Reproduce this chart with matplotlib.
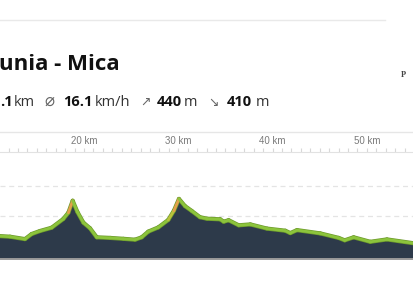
import matplotlib
matplotlib.use("Agg")
import matplotlib.pyplot as plt
from matplotlib.collections import LineCollection
from matplotlib.lines import Line2D
import numpy as np

# Route elevation profile (distance in km, elevation in m)
distance_km = [11.09, 12.15, 13.74, 14.45, 15.33, 16.57, 17.80, 18.34, 18.80, 19.29,
               19.93, 20.64, 21.35, 22.76, 24.17, 25.41, 26.12, 26.82, 27.88, 28.94,
               29.54, 30.07, 30.71, 31.42, 32.30, 33.04, 34.45, 34.81, 35.34, 36.41,
               37.64, 39.41, 41.35, 41.88, 42.59, 45.06, 47.01, 47.65, 48.60, 50.36,
               52.13, 55.00]
elevation_m = [133, 131, 123, 140, 150, 161, 190, 211, 251, 214,
               178, 159, 129, 127, 124, 121, 129, 148, 162, 187,
               218, 257, 233, 217, 196, 191, 189, 181, 186, 169,
               172, 158, 151, 143, 153, 142, 127, 119, 129, 114,
               122, 109]

tick_km = [20, 30, 40, 50]
tick_labels = ["20 km", "30 km", "40 km", "50 km"]
grid_levels = [200, 300]

title = "unia - Mica"
stat_distance = ".1"
stat_speed = "16.1"
stat_up = "440"
stat_down = "410"

W, H = 414, 286
fig = plt.figure(figsize=(W / 100, H / 100), dpi=100)
fig.patch.set_facecolor("white")


def fx(px):
    return px / W


def fy(py):
    return 1 - py / H


FONT = "Open Sans"

# Header rules
fig.add_artist(Line2D([fx(0), fx(385)], [fy(20), fy(20)], color="#e9e9e9", lw=1.0))
fig.add_artist(Line2D([fx(0), fx(414)], [fy(132), fy(132)], color="#e6e6e6", lw=1.0))

# Title
fig.text(fx(-1), fy(70), title, fontsize=16, fontweight="bold", family=FONT,
         color="#111111", va="baseline", ha="left")

# Stats row
base = fy(106)
SZ = 10.5
stat_kw = dict(va="baseline", ha="left", family=FONT)
sym_kw = dict(va="baseline", ha="left", family="DejaVu Sans", color="#666666")
fig.text(fx(0), base, stat_distance, fontsize=SZ, fontweight="bold", color="#111111", **stat_kw)
fig.text(fx(14), base, "km", fontsize=SZ, color="#333333", **stat_kw)
fig.text(fx(44), base, "\u2300", fontsize=12, **sym_kw)
fig.text(fx(63), base, stat_speed, fontsize=SZ, fontweight="bold", color="#111111", **stat_kw)
fig.text(fx(95), base, "km/h", fontsize=SZ, color="#333333", **stat_kw)
fig.text(fx(140), base, "\u2197", fontsize=9, **sym_kw)
fig.text(fx(157), base, stat_up, fontsize=SZ, fontweight="bold", color="#111111", **stat_kw)
fig.text(fx(184), base, "m", fontsize=SZ, color="#333333", **stat_kw)
fig.text(fx(208), base, "\u2198", fontsize=9, **sym_kw)
fig.text(fx(227), base, stat_down, fontsize=SZ, fontweight="bold", color="#111111", **stat_kw)
fig.text(fx(256), base, "m", fontsize=SZ, color="#333333", **stat_kw)

# Small serif letter at the right edge
fig.text(fx(401), fy(77), "P", fontsize=6, fontweight="bold", family="Liberation Serif",
         color="#444444", va="baseline", ha="left")

# Elevation chart
ax = fig.add_axes([0, fy(259), 1, (259 - 152) / H])
ax.set_xlim(11.09, 55.0)
ax.set_ylim(56.7, 413.3)

x = np.array(distance_km)
y = np.array(elevation_m)

for g in grid_levels:
    ax.axhline(g, color="#e4e4e4", lw=0.9, ls=(0, (4, 3)), zorder=1)

ax.fill_between(x, y, 56.7, color="#2d3a4a", lw=0, zorder=2)

# Profile outline, coloured by gradient
pts = np.column_stack([x, y]).reshape(-1, 1, 2)
segs = np.concatenate([pts[:-1], pts[1:]], axis=1)
grade = np.diff(y) / (np.diff(x) * 1000) * 100
colors = ["#e2a04a" if gr > 6 else ("#b9c23c" if gr > 4.5 else "#8cc43c") for gr in grade]
ax.add_collection(LineCollection(segs, colors="#6d9a2c", linewidths=3.0,
                                 capstyle="round", joinstyle="round", zorder=3))
ax.add_collection(LineCollection(segs, colors=colors, linewidths=2.0,
                                 capstyle="round", joinstyle="round", zorder=4))

ax.set_yticks([])
ax.xaxis.tick_top()
ax.set_xticks(tick_km)
ax.set_xticklabels(tick_labels)
ax.set_xticks(np.arange(12, 56, 1), minor=True)
ax.tick_params(axis="x", which="both", top=True, bottom=False, direction="out",
               color="#d8d8d8", width=0.8)
ax.tick_params(axis="x", which="major", length=3, pad=1, labelsize=7,
               labelcolor="#7a7a7a")
ax.tick_params(axis="x", which="minor", length=3)
for lab in ax.get_xticklabels():
    lab.set_family("Liberation Sans")

for side in ["left", "right"]:
    ax.spines[side].set_visible(False)
ax.spines["top"].set_color("#e2e2e2")
ax.spines["top"].set_linewidth(0.8)
ax.spines["bottom"].set_color("#9a9a9a")
ax.spines["bottom"].set_linewidth(1.4)
ax.set_facecolor("white")

fig.savefig("out.png", dpi=100, facecolor="white")
